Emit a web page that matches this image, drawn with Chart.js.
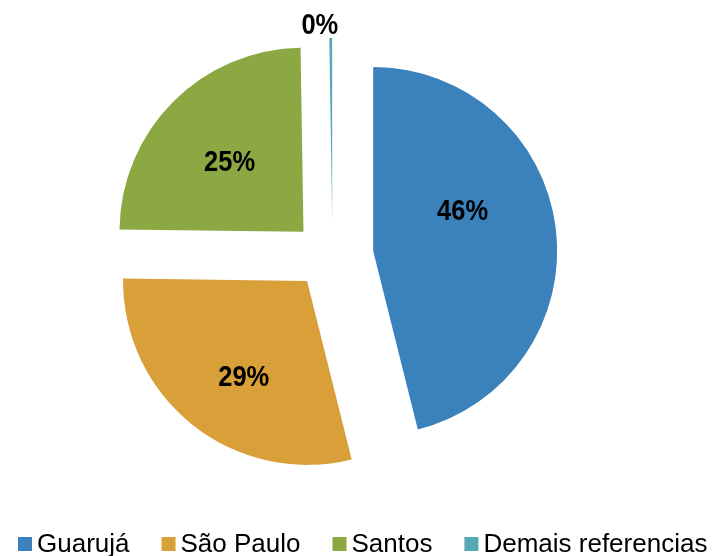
<!DOCTYPE html>
<html>
<head>
<meta charset="utf-8">
<script src="https://cdn.jsdelivr.net/npm/chart.js@4"></script>
<style>
  html, body { margin: 0; padding: 0; background: #fff; }
  #wrap { position: relative; width: 716px; height: 556px; }
</style>
</head>
<body>
<div id="wrap"><canvas id="chart-origem" width="716" height="556"></canvas></div>
<script>
// Dados do grafico
const categorias = ['Guarujá', 'São Paulo', 'Santos', 'Demais referencias'];
const valores = [46.1, 29.1, 24.55, 0.25];
const cores = ['#3B81BC', '#D99F38', '#8BA843', '#57A9B7'];

const total = valores.reduce((a, b) => a + b, 0);
const rotulos = valores.map(v => Math.round(v / total * 100) + '%');

// afastamento das fatias (px, horizontal / vertical)
const explodeX = 41;
const explodeY = 33;
// posicao dos rotulos: [fracao do angulo, fracao do raio]
const posRotulo = [[0.40, 0.53], [0.45, 0.63], [0.48, 0.55], [-3, 1.07]];

const centroFatia = (arc) => {
  const mid = (arc.startAngle + arc.endAngle) / 2;
  return { x: arc.x + Math.cos(mid) * explodeX, y: arc.y + Math.sin(mid) * explodeY };
};

const fatiasSeparadas = {
  id: 'fatiasSeparadas',
  beforeDatasetsDraw(chart) {
    const ctx = chart.ctx;
    const meta = chart.getDatasetMeta(0);
    meta.data.forEach((arc) => {
      const c = centroFatia(arc);
      ctx.save();
      ctx.translate(c.x - arc.x, c.y - arc.y);
      arc.draw(ctx);
      ctx.restore();
    });
    return false;
  },
  afterDraw(chart) {
    const ctx = chart.ctx;
    const meta = chart.getDatasetMeta(0);

    // rotulos de porcentagem (fonte estreita: escala horizontal)
    const estreita = 0.85;
    ctx.save();
    ctx.font = 'bold 30px "Liberation Sans", Arial, sans-serif';
    ctx.fillStyle = '#000';
    ctx.textAlign = 'center';
    ctx.textBaseline = 'middle';
    meta.data.forEach((arc, i) => {
      const c = centroFatia(arc);
      const a = arc.startAngle + (arc.endAngle - arc.startAngle) * posRotulo[i][0];
      const r = arc.outerRadius * posRotulo[i][1];
      const lx = c.x + Math.cos(a) * r;
      const ly = c.y + Math.sin(a) * r;
      ctx.save();
      ctx.translate(lx, ly);
      ctx.scale(estreita, 1);
      ctx.fillText(rotulos[i], 0, 0);
      ctx.restore();
    });
    ctx.restore();

    // legenda embaixo
    ctx.save();
    ctx.font = '26px "Liberation Sans", Arial, sans-serif';
    ctx.textBaseline = 'alphabetic';
    let x = 18;
    categorias.forEach((nome, i) => {
      ctx.fillStyle = cores[i];
      ctx.fillRect(x, 537, 14, 14);
      ctx.fillStyle = '#000';
      ctx.fillText(nome, x + 19, 552);
      x += 19 + ctx.measureText(nome).width + 32;
    });
    ctx.restore();
  }
};

const ctx = document.getElementById('chart-origem').getContext('2d');
new Chart(ctx, {
  type: 'pie',
  data: {
    labels: categorias,
    datasets: [{
      data: valores,
      backgroundColor: cores,
      borderWidth: 0
    }]
  },
  options: {
    responsive: false,
    animation: false,
    radius: 184,
    layout: { padding: { left: 0, right: 51, top: 0, bottom: 46 } },
    plugins: {
      legend: { display: false },
      tooltip: { enabled: false }
    }
  },
  plugins: [fatiasSeparadas]
});
</script>
</body>
</html>
